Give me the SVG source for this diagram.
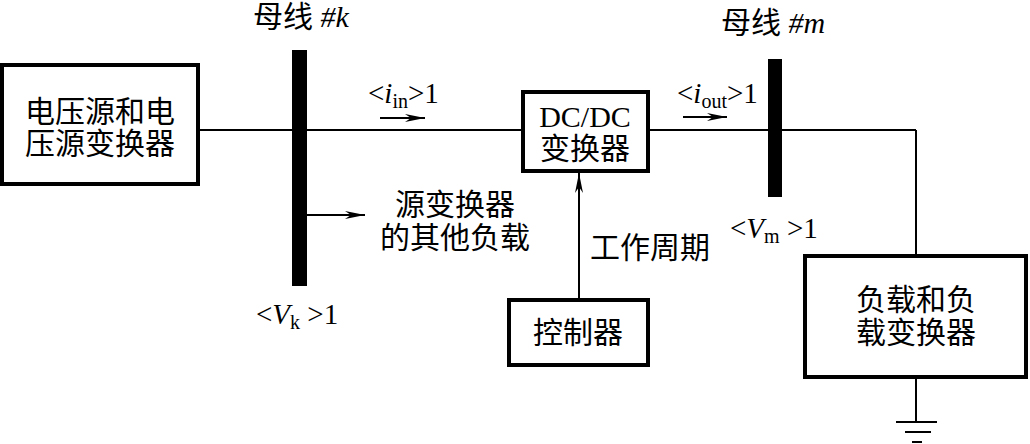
<svg xmlns="http://www.w3.org/2000/svg" width="1030" height="444" viewBox="0 0 1030 444">
<style>
.box{fill:#fff;stroke:#000;stroke-width:4}
.bus{fill:#000}
.wire{fill:none;stroke:#000;stroke-width:2}
.cjk{font-family:"Liberation Serif","Noto Sans CJK SC",serif;font-size:30px;fill:#000}
.lat{font-family:"Liberation Serif","Noto Sans CJK SC",serif;font-size:29px;fill:#000}
.it{font-style:italic}
.sub{font-size:20px}
</style>
<defs>
<marker id="arr" viewBox="0 0 20 10" refX="20" refY="5" markerWidth="20" markerHeight="10" markerUnits="userSpaceOnUse" orient="auto">
<path d="M0,1 L20,5 L0,9 L6,5 Z" fill="#000"/>
</marker>
</defs>
<g id="connectors">
<line class="wire" x1="198" y1="130" x2="523" y2="130"/>
<line class="wire" x1="648" y1="130" x2="916" y2="130"/>
<line class="wire" x1="916" y1="130" x2="916" y2="256"/>
<line class="wire" x1="307" y1="215" x2="365" y2="215" marker-end="url(#arr)"/>
<line class="wire" x1="579" y1="300" x2="579" y2="173" marker-end="url(#arr)"/>
<line class="wire" x1="380" y1="118" x2="425" y2="118" marker-end="url(#arr)"/>
<line class="wire" x1="683" y1="117" x2="727" y2="117" marker-end="url(#arr)"/>
<line class="wire" x1="916" y1="377" x2="916" y2="422"/>
<line class="wire" x1="896" y1="422" x2="937" y2="422"/>
<line class="wire" x1="905" y1="432" x2="931" y2="432"/>
<line class="wire" x1="912" y1="442" x2="922" y2="442"/>
</g>
<g id="source">
<rect class="box" x="2" y="65" width="196" height="119"/>
<text class="cjk" x="100" y="122" text-anchor="middle">电压源和电</text>
<text class="cjk" x="100" y="154" text-anchor="middle">压源变换器</text>
</g>
<g id="bus-k">
<rect class="bus" x="292" y="50" width="15" height="236"/>
<text class="cjk" x="253" y="27">母线 <tspan class="it">#k</tspan></text>
<text class="lat" x="256" y="324">&lt;<tspan class="it">V</tspan><tspan class="sub" dy="5">k</tspan><tspan dy="-5"> &gt;1</tspan></text>
</g>
<g id="i-in-label">
<text class="lat" x="368" y="103">&lt;<tspan class="it">i</tspan><tspan class="sub" dy="5">in</tspan><tspan dy="-5">&gt;1</tspan></text>
</g>
<g id="other-loads">
<text class="cjk" x="395" y="215">源变换器</text>
<text class="cjk" x="380" y="248">的其他负载</text>
</g>
<g id="dcdc">
<rect class="box" x="523" y="92" width="125" height="79"/>
<text class="cjk" x="585" y="127" text-anchor="middle">DC/DC</text>
<text class="cjk" x="585" y="159" text-anchor="middle">变换器</text>
</g>
<g id="i-out-label">
<text class="lat" x="677" y="103">&lt;<tspan class="it">i</tspan><tspan class="sub" dy="5">out</tspan><tspan dy="-5">&gt;1</tspan></text>
</g>
<g id="bus-m">
<rect class="bus" x="768" y="59" width="14" height="138"/>
<text class="cjk" x="721" y="33">母线 <tspan class="it">#m</tspan></text>
<text class="lat" x="730" y="238">&lt;<tspan class="it">V</tspan><tspan class="sub" dy="5">m</tspan><tspan dy="-5"> &gt;1</tspan></text>
</g>
<g id="controller">
<rect class="box" x="509" y="300" width="139" height="65"/>
<text class="cjk" x="578" y="343" text-anchor="middle">控制器</text>
<text class="cjk" x="590" y="258">工作周期</text>
</g>
<g id="load">
<rect class="box" x="805" y="256" width="221" height="121"/>
<text class="cjk" x="916" y="310" text-anchor="middle">负载和负</text>
<text class="cjk" x="916" y="343" text-anchor="middle">载变换器</text>
</g>
</svg>
